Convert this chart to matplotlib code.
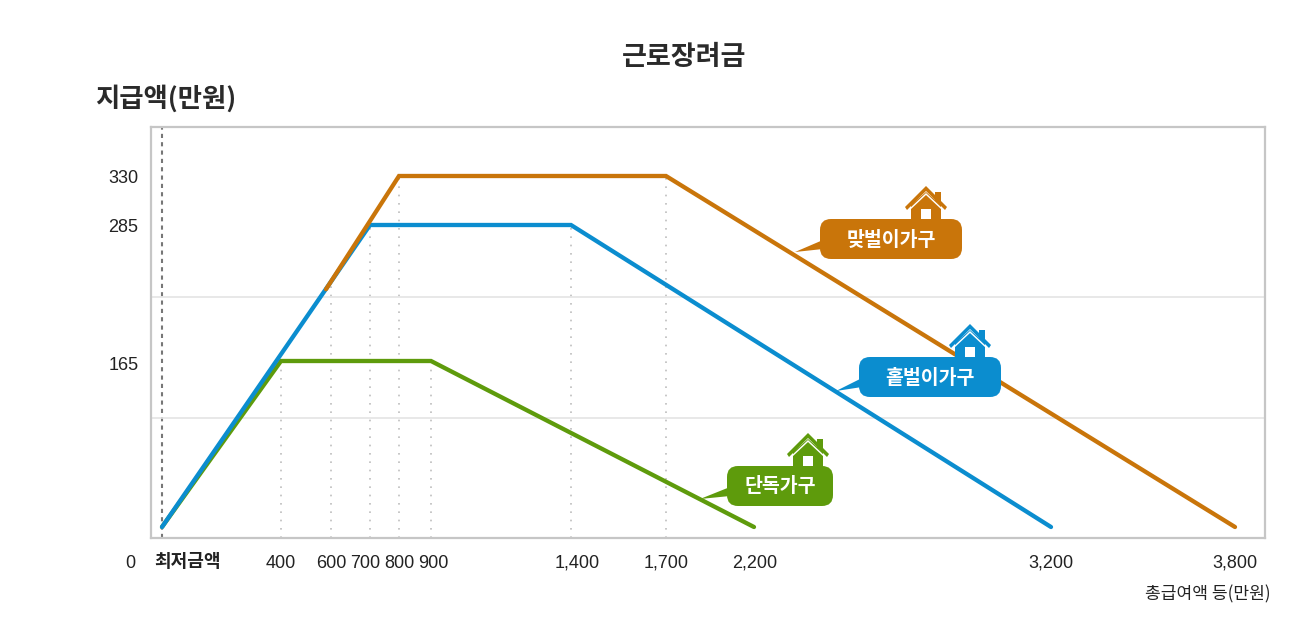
import numpy as np
import matplotlib
matplotlib.use('Agg')
import matplotlib.pyplot as plt
from matplotlib.patches import FancyBboxPatch, Polygon, Rectangle
from matplotlib.transforms import Affine2D

plt.rcParams['font.family'] = ['Noto Sans CJK KR', 'DejaVu Sans']
NUM = ['Liberation Sans', 'Noto Sans CJK KR']

W, H = 1308, 618

# data: income (만원) -> payment (만원)
single_x = [0, 400, 900, 2200]
single_y = [0, 165, 165, 0]
one_x = [0, 700, 1400, 3200]
one_y = [0, 285, 285, 0]
# the part under the blue line is hidden in the picture
two_x = [580, 800, 1700, 3800]
two_y = [227, 330, 330, 0]

x_ticks = [0, 400, 600, 700, 800, 900, 1400, 1700, 2200, 3200, 3800]
x_labels = ['최저금액', '400', '600', '700', '800', '900', '1,400', '1,700', '2,200', '3,200', '3,800']
# labels are not quite under their ticks in the original
x_nudge = [25, 0, 0, -5, 0, 2, 6, 0, 1, 0, 0]
y_ticks = [165, 285, 330]
y_nudge = [-3, -1, -1]
y_grid = [110, 220, 330]

# dotted drop lines: x, height
drop_x = [400, 600, 700, 800, 900, 1400, 1700]
drop_y = [165, 233, 285, 330, 165, 285, 330]

ORANGE = '#c9750a'
BLUE = '#0b8dcf'
GREEN = '#5e9b0c'

# the axes is not linear, scale is piecewise between the printed ticks
x_data = [-37, 0, 400, 600, 700, 800, 900, 1400, 1700, 2200, 3200, 3800, 3898]
x_px = [151, 162, 281, 331, 370, 399, 431, 571, 666, 754, 1051, 1235, 1265]
y_data = [-11, 0, 110, 165, 220, 285, 330, 375]
y_px = [0, 11, 120, 177, 241, 313, 362, 411]


def x_fwd(v):
    return np.interp(v, x_data, x_px)

def x_inv(v):
    return np.interp(v, x_px, x_data)

def y_fwd(v):
    return np.interp(v, y_data, y_px)

def y_inv(v):
    return np.interp(v, y_px, y_data)


fig = plt.figure(figsize=(W/100, H/100), dpi=100)
ax = fig.add_axes([151/W, 1-538/H, (1265-151)/W, (538-127)/H])
ax.set_xscale('function', functions=(x_fwd, x_inv))
ax.set_yscale('function', functions=(y_fwd, y_inv))
ax.set_xlim(-37, 3898)
ax.set_ylim(-11, 375)

for s in ax.spines.values():
    s.set_color('#c6c6c6')
    s.set_linewidth(1.6)

ax.set_yticks(y_grid, minor=True)
ax.grid(True, which='minor', axis='y', color='#e4e4e4', lw=1.2)
ax.tick_params(which='both', length=0)
ax.set_yticks(y_ticks)
ax.set_yticklabels([str(v) for v in y_ticks], family=NUM, fontsize=13, color='#222222')
ax.tick_params(axis='y', pad=9)
for lab, dy in zip(ax.get_yticklabels(), y_nudge):
    lab.set_transform(lab.get_transform() + Affine2D().translate(0, dy))
ax.set_xticks(x_ticks)
ax.set_xticklabels(x_labels, family=NUM, fontsize=13, color='#222222')
ax.tick_params(axis='x', pad=12)
for lab, dx in zip(ax.get_xticklabels(), x_nudge):
    lab.set_transform(lab.get_transform() + Affine2D().translate(dx, 0))
lab = ax.get_xticklabels()[0]
lab.set_family(['Noto Sans CJK KR'])
lab.set_fontsize(13)
lab.set_fontweight('bold')
lab.set_transform(lab.get_transform() + Affine2D().translate(0, 3))

ax.vlines(drop_x, -11, drop_y, color='#bdbdbd', lw=1.2, linestyles=(0, (1, 4)), zorder=1)
ax.axvline(0, color='#777777', lw=1.5, linestyle=(0, (2, 2)), zorder=1)

ax.plot(two_x, two_y, color=ORANGE, lw=3.1, solid_capstyle='round', solid_joinstyle='miter', zorder=3)
ax.plot(one_x, one_y, color=BLUE, lw=3.1, solid_capstyle='round', solid_joinstyle='miter', zorder=2.8)
ax.plot(single_x, single_y, color=GREEN, lw=3.1, solid_capstyle='round', solid_joinstyle='miter', zorder=2.5)

# everything below is decoration placed in picture pixels
px = Affine2D().scale(1, -1).translate(0, H)


def callout(x0, y0, x1, y1, tip, color, text, house_x):
    fig.add_artist(Polygon([(x0+3, y1-19), (x0+3, y1-10), tip], closed=True, fc=color, ec='none', transform=px))
    fig.add_artist(FancyBboxPatch((x0+9, y0+9), x1-x0-18, y1-y0-18, boxstyle='round,pad=9,rounding_size=11',
                                  fc=color, ec='none', transform=px, mutation_aspect=1))
    fig.text((x0+x1)/2/W, 1-((y0+y1)/2+1)/H, text, color='white', fontsize=14, fontweight='bold',
             ha='center', va='center')
    # house sits on top of the box
    ay = y0-33
    fig.add_artist(Polygon([(house_x-15, ay+19), (house_x-15, ay+34), (house_x+15, ay+34), (house_x+15, ay+19), (house_x, ay+6)],
                           closed=True, fc=color, ec='none', transform=px))
    fig.add_artist(Rectangle((house_x+9, ay+6), 6, 10, fc=color, ec='none', transform=px))
    fig.add_artist(Polygon([(house_x-21, ay+21), (house_x, ay), (house_x+21, ay+21), (house_x+19, ay+24), (house_x, ay+5), (house_x-19, ay+24)],
                           closed=True, fc=color, ec='none', transform=px))
    fig.add_artist(Polygon([(house_x-17, ay+23), (house_x, ay+7), (house_x+17, ay+23), (house_x+16, ay+24), (house_x, ay+9), (house_x-16, ay+24)],
                           closed=True, fc='white', ec='none', transform=px))
    fig.add_artist(Rectangle((house_x-5, ay+23), 10, 10, fc='white', ec='none', transform=px))


callout(820, 219, 962, 259, (795, 252), ORANGE, '맞벌이가구', 926)
callout(859, 357, 1001, 397, (836, 391), BLUE, '홑벌이가구', 970)
callout(727, 466, 833, 506, (700, 499), GREEN, '단독가구', 808)

fig.text(684/W, 1-57/H, '근로장려금', fontsize=19.5, fontweight='bold', color='#2a2a2a', ha='center', va='center')
fig.text(95/W, 1-99/H, '지급액(만원)', fontsize=19, fontweight='bold', color='#2a2a2a', ha='left', va='center')
fig.text(130/W, 1-563/H, '0', family=NUM, fontsize=13, color='#222222', ha='center', va='center')
fig.text(1271/W, 1-594/H, '총급여액 등(만원)', fontsize=12.3, color='#222222', ha='right', va='center')

fig.savefig('out.png', dpi=100)
